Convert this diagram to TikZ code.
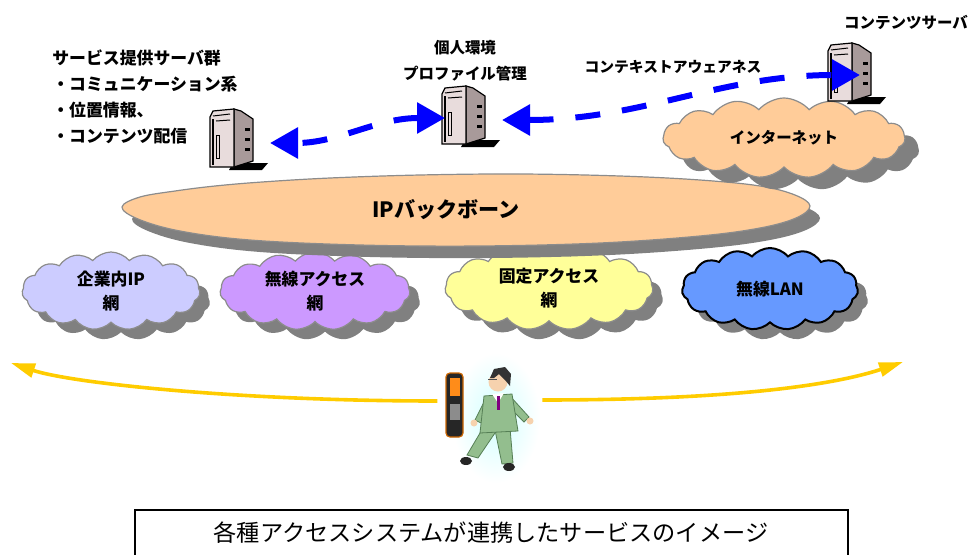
\documentclass[tikz,border=0pt]{standalone}
\usepackage{fontspec}
\setmainfont{Noto Sans CJK JP}
\usepackage{tikz}
\usetikzlibrary{arrows.meta, shapes.symbols, shapes.geometric, shadows}
\usepackage{xcolor}
\definecolor{netpeach}{HTML}{FFCC99}
\definecolor{corplilac}{HTML}{CCCCFF}
\definecolor{radiopurple}{HTML}{CC99FF}
\definecolor{fixedyellow}{HTML}{FFFF99}
\definecolor{wlanblue}{HTML}{6699FF}
\definecolor{linkblue}{HTML}{0000FF}
\definecolor{roamyellow}{HTML}{FFCC00}
\definecolor{srvfront}{HTML}{E8DCDC}
\definecolor{srvside}{HTML}{A89A9A}
\definecolor{suitgreen}{HTML}{93BE8E}
\definecolor{suitdark}{HTML}{557F55}
\definecolor{skin}{HTML}{F6D2AE}
% outline of the backbone cloud, in pixel units
\newcommand{\backboneoutline}{(122,207) (140,197) (175,191) (215,186) (262,182) (330,178) (420,175)
	(520,174) (620,176) (700,180) (760,186) (795,195) (810,206) (796,218) (760,228) (700,236)
	(600,243) (480,246) (360,245) (250,240) (180,231) (138,219)}
\tikzset{%
	every net/.style={
		cloud,
		cloud puffs=15,
		cloud puff arc=100,
		cloud ignores aspect,
		draw=black!45,
		line width=0.3mm,
		align=center,
		inner sep=0pt,
		font=\bfseries\fontsize{12}{17}\selectfont
	},
	server label/.style={
		inner sep=0pt,
		font=\bfseries\fontsize{12}{18.5}\selectfont
	},
	blue link/.style={
		draw=linkblue,
		line width=1.5mm,
		dash pattern=on 6.25mm off 5.5mm,
		{Triangle[length=7mm,width=7.5mm]}-{Triangle[length=7mm,width=7.5mm]}
	},
	roam arrow/.style={
		draw=roamyellow,
		line width=0.9mm,
		-{Triangle[length=6mm,width=3.5mm]}
	},
	server/.pic={
		\fill (19,62) -- (23,55) -- (58,55) -- (52,62) -- cycle;
		\filldraw[fill=srvside, line width=0.3mm] (24,1) -- (31,3) -- (43,11) -- (43,53) -- (24,59) -- cycle;
		\filldraw[fill=srvfront, line width=0.3mm] (0,9) -- (3,3) -- (24,1) -- (24,59) -- (0,59) -- cycle;
		\draw[line width=0.5mm] (3,11) -- (3,57);
		\draw[line width=0.25mm] (3,8) -- (20,6) (6,13) -- (20,12);
		\draw[line width=0.25mm] (6,27) rectangle (9,50);
		\foreach \k in {20,30,40}
			\fill (35,\k) rectangle (40,\k+2.5);
		\coordinate (-west) at (3,33);
		\coordinate (-east) at (60,35);
		\coordinate (-side) at (32,33);
	},
}

\begin{document}
\begin{tikzpicture}[x=0.25mm, y=-0.25mm]
	\useasboundingbox (0,0) rectangle (978,555);

	% access networks
	\node[every net, general shadow={fill=black!50, shadow xshift=2.5mm, shadow yshift=-2.5mm},
		fill=corplilac, minimum width=44.5mm, minimum height=19.5mm] (corpnet) at (111,291) {企業内IP\\網};
	\node[every net, general shadow={fill=black!50, shadow xshift=2.5mm, shadow yshift=-2.5mm},
		fill=radiopurple, minimum width=47.5mm, minimum height=19.5mm] (radionet) at (315,291) {無線アクセス\\網};
	\node[every net, general shadow={fill=black!50, shadow xshift=2.5mm, shadow yshift=-2.5mm},
		fill=fixedyellow, minimum width=52mm, minimum height=21mm] (fixednet) at (549,288) {固定アクセス\\網};
	\node[every net, general shadow={fill=black!50, shadow xshift=2.5mm, shadow yshift=-2.5mm},
		fill=wlanblue, draw=black, line width=0.5mm, minimum width=44mm, minimum height=20.5mm] (wlan) at (770,289) {無線LAN};

	% core
	\fill[black!50, xshift=2.5mm, yshift=-3mm] plot[smooth cycle, tension=0.6] coordinates {\backboneoutline};
	\filldraw[fill=netpeach, draw=black!45, line width=0.3mm] plot[smooth cycle, tension=0.6] coordinates {\backboneoutline};
	\node[font=\bfseries\fontsize{15}{18}\selectfont] (backbone) at (446,210) {IPバックボーン};

	\node[every net, general shadow={fill=black!50, shadow xshift=3.5mm, shadow yshift=-3mm},
		fill=netpeach, minimum width=60.5mm, minimum height=20mm,
		font=\bfseries\fontsize{11}{13}\selectfont] (internet) at (784,138) {インターネット};

	% servers
	\pic (srvL) at (210,108) {server};
	\pic (srvM) at (442,85) {server};
	\pic (srvC) at (828,42) {server};

	\node[server label, align=left, anchor=north west] (svcgroup) at (52,49) {サービス提供サーバ群\\・コミュニケーション系\\・位置情報、\\・コンテンツ配信};
	\node[server label, align=center, font=\bfseries\fontsize{11}{18.5}\selectfont] (profile) at (465,61) {個人環境\\プロファイル管理};
	\node[server label, font=\bfseries\fontsize{11}{13}\selectfont] (contents) at (906,22) {コンテンツサーバ};
	\node[server label, font=\bfseries\fontsize{10.5}{12}\selectfont] (ctxaware) at (673,67) {コンテキストアウェアネス};

	\draw[blue link] (srvM-west) to[out=180, in=0] (srvL-east);
	\draw[blue link] (srvM-east) to[out=0, in=180] (srvC-side);

	% user on the move
	\node[ellipse, shade, inner color=cyan!18, outer color=white, minimum width=22mm, minimum height=32.5mm] (walker) at (496,418) {};
	\node[draw=orange!80!black, fill=black!85, rounded corners=1mm, line width=0.3mm, inner sep=0pt,
		minimum width=4.25mm, minimum height=16mm] (phone) at (454.5,405) {};
	\fill[orange!90] (449.5,378) rectangle (459.5,396);
	\fill[black!45] (449.5,404) rectangle (459.5,420);

	\filldraw[fill=suitgreen, draw=suitdark, line width=0.2mm] (483,428) -- (497,430) -- (478,458) -- (467,455) -- cycle;
	\filldraw[fill=suitgreen, draw=suitdark, line width=0.2mm] (495,430) -- (510,428) -- (513,463) -- (502,464) -- cycle;
	\fill[black!85] (466,461) ellipse [x radius=6, y radius=4];
	\fill[black!85] (509,467) ellipse [x radius=6, y radius=4];
	\filldraw[fill=suitgreen, draw=suitdark, line width=0.2mm] (486,398) -- (475,420) -- (481,423) -- (491,406) -- cycle;
	\filldraw[fill=suitgreen, draw=suitdark, line width=0.2mm] (510,396) -- (529,417) -- (524,422) -- (506,404) -- cycle;
	\filldraw[fill=suitgreen, draw=suitdark, line width=0.2mm] (484,396) -- (512,394) -- (518,431) -- (480,433) -- cycle;
	\fill[skin] (474,423) circle [radius=3.5];
	\fill[skin] (530,421) circle [radius=3.5];
	\fill[white] (492,394) -- (504,393) -- (498,403) -- cycle;
	\fill[violet] (497,396) -- (500,396) -- (500,410) -- (497,410) -- cycle;
	\fill[skin] (498,382) circle [radius=9.5];
	\fill[black!80] (490,378) -- (494,369) -- (505,367) -- (511,374) -- (510,386) -- (505,380) -- (499,374) -- (494,378) -- cycle;
	\draw[black!70, line width=0.15mm] (488,379) -- (497,379);

	\coordinate (farL) at (11,363);
	\coordinate (farR) at (903,362);
	\draw[roam arrow] ([xshift=-2mm,yshift=1mm]phone.west) .. controls (238,401) and (71,383) .. (farL);
	\draw[roam arrow] ([xshift=0.5mm,yshift=4.5mm]walker.east) .. controls (745,400) and (840,383) .. (farR);

	% caption box
	\draw[line width=0.35mm] (135,555) |- (848,510) -- (848,555);
	\node[font=\fontsize{16.5}{18}\selectfont] (caption) at (491,533) {各種アクセスシステムが連携したサービスのイメージ};
\end{tikzpicture}
\end{document}
